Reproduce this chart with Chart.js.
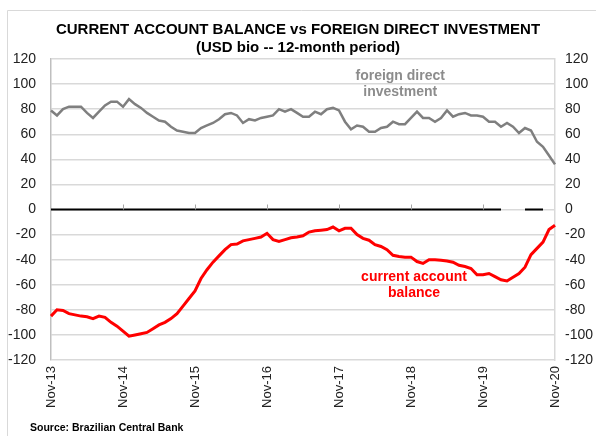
<!DOCTYPE html>
<html lang="en">
<head>
  <meta charset="UTF-8" />
  <title>Current account balance vs FDI</title>
  <script src="https://cdn.jsdelivr.net/npm/chart.js"></script>
  <style>
    html, body { margin: 0; padding: 0; background: #fff; }
    .chart-wrapper { width: 596px; height: 436px; position: relative; }
  </style>
</head>
<body>
<div class="chart-wrapper">
  <canvas id="caChart"></canvas>
</div>

<script>
  // monthly, Nov-13 .. Nov-20 (85 points), USD bio, 12-month sums
  const monthNames = ['Jan', 'Feb', 'Mar', 'Apr', 'May', 'Jun', 'Jul', 'Aug', 'Sep', 'Oct', 'Nov', 'Dec'];
  const categories = [];
  for (let i = 0; i < 85; i++) {
    const m = (10 + i) % 12;
    const y = 13 + Math.floor((10 + i) / 12);
    categories.push(monthNames[m] + '-' + y);
  }

  const fdi = [
    79, 75, 80, 82, 82, 82, 77, 73, 78, 83, 86, 86,
    82, 88, 84, 81, 77, 74, 71, 70, 66, 63, 62, 61,
    61, 65, 67, 69, 72, 76, 77, 75, 69, 72, 71, 73,
    74, 75, 80, 78, 80, 77, 74, 74, 78, 76, 80, 81,
    79, 70, 64, 67, 66, 62, 62, 65, 66, 70, 68, 68,
    73, 78, 73, 73, 70, 73, 79, 74, 76, 77, 75, 75,
    74, 70, 70, 66, 69, 66, 61, 65, 63, 54, 50, 43,
    36
  ];

  const currentAccount = [
    -85, -80, -80.5, -83, -84, -85, -85.5, -87, -85, -86, -90, -93,
    -97, -101, -100, -99, -98, -95, -92, -90, -87, -83, -77, -71,
    -65, -55, -48, -42, -37, -32, -28, -27.5, -25, -24, -23, -22,
    -19, -24, -25.5, -24, -22.5, -22, -21, -18, -17, -16.5, -16, -14,
    -17, -15, -15, -20, -23, -24.5, -28, -29.5, -32, -36.5, -37.5, -38,
    -38, -41.5, -43, -40, -40, -40.5, -41, -42, -44.5, -45.5, -47, -52,
    -52, -51, -53.5, -56, -57, -54, -51, -46, -36, -31, -26, -16,
    -12.5
  ];

  // the zero line in the original has two short breaks near the end
  const zeroLine = categories.map((c, i) =>
    (i >= 76 && i <= 78) || i >= 83 ? null : 0);

  const yTicks = { min: -120, max: 120, step: 20 };

  const titleText = 'CURRENT ACCOUNT BALANCE vs FOREIGN DIRECT INVESTMENT';
  const subtitleText = '(USD bio -- 12-month period)';
  const sourceText = 'Source: Brazilian Central Bank';
  const fdiLabel = ['foreign direct', 'investment'];
  const caLabel = ['current account', 'balance'];

  const FONT = "'Liberation Sans', Arial, sans-serif";

  // frame, source note, series labels and small ticks on the zero axis
  const extras = {
    id: 'extras',
    beforeDraw(chart) {
      const c = chart.ctx;
      c.save();
      c.strokeStyle = '#d9d9d9';
      c.lineWidth = 1;
      c.beginPath();
      c.moveTo(7.5, 436);
      c.lineTo(7.5, 10.5);
      c.lineTo(596, 10.5);
      c.stroke();
      c.restore();
    },
    afterDatasetsDraw(chart) {
      const c = chart.ctx;
      const x = chart.scales.x;
      const y = chart.scales.y;
      const y0 = y.getPixelForValue(0);
      c.save();
      c.strokeStyle = '#a6a6a6';
      c.lineWidth = 1;
      for (let i = 12; i < categories.length - 1; i += 12) {
        const px = Math.round(x.getPixelForValue(i)) + 0.5;
        c.beginPath();
        c.moveTo(px, y0 - 5);
        c.lineTo(px, y0);
        c.stroke();
      }

      c.textAlign = 'center';
      c.textBaseline = 'middle';
      c.font = 'bold 14px ' + FONT;
      c.fillStyle = '#8c8c8c';
      c.fillText(fdiLabel[0], x.getPixelForValue(58.2), y.getPixelForValue(106));
      c.fillText(fdiLabel[1], x.getPixelForValue(58.2), y.getPixelForValue(93.7));
      c.fillStyle = '#ff0000';
      c.fillText(caLabel[0], x.getPixelForValue(60.5), y.getPixelForValue(-53.8));
      c.fillText(caLabel[1], x.getPixelForValue(60.5), y.getPixelForValue(-66.8));

      c.textAlign = 'left';
      c.font = 'bold 10.5px ' + FONT;
      c.fillStyle = '#000';
      c.fillText(sourceText, 30, 428);
      c.restore();
    }
  };

  const config = {
    type: 'line',
    data: {
      labels: categories,
      datasets: [
        {
          label: 'zero',
          data: zeroLine,
          borderColor: '#000',
          borderWidth: 2,
          pointRadius: 0,
          spanGaps: false,
          order: 3
        },
        {
          label: 'foreign direct investment',
          data: fdi,
          borderColor: '#7f7f7f',
          borderWidth: 2.5,
          pointRadius: 0,
          tension: 0,
          order: 2
        },
        {
          label: 'current account balance',
          data: currentAccount,
          borderColor: '#ff0000',
          borderWidth: 3,
          pointRadius: 0,
          tension: 0,
          order: 1
        }
      ]
    },
    options: {
      responsive: true,
      maintainAspectRatio: false,
      animation: false,
      layout: { padding: 0 },
      plugins: {
        legend: { display: false },
        tooltip: { enabled: false },
        title: {
          display: true,
          text: titleText,
          color: '#000',
          font: { family: FONT, size: 15, weight: 'bold', lineHeight: 1.2 },
          padding: { top: 21, bottom: 0 }
        },
        subtitle: {
          display: true,
          text: subtitleText,
          color: '#000',
          font: { family: FONT, size: 15, weight: 'bold', lineHeight: 1.2 },
          padding: { top: 0, bottom: 2 }
        }
      },
      scales: {
        x: {
          grid: { display: false, drawTicks: false },
          border: { display: false },
          ticks: {
            autoSkip: false,
            minRotation: 90,
            maxRotation: 90,
            padding: 6,
            color: '#222',
            font: { family: FONT, size: 13 },
            callback: (v, i) => (i % 12 === 0 ? categories[i] : '')
          },
          afterFit: s => { s.height = 76; }
        },
        y: {
          position: 'left',
          min: yTicks.min,
          max: yTicks.max,
          grid: { color: '#d9d9d9', lineWidth: 1.5, drawTicks: false },
          border: { color: '#bfbfbf', width: 1.5 },
          ticks: {
            stepSize: yTicks.step,
            padding: 15,
            color: '#222',
            font: { family: FONT, size: 14 }
          },
          afterFit: s => { s.width = 51; }
        },
        y2: {
          position: 'right',
          min: yTicks.min,
          max: yTicks.max,
          grid: { display: false, drawTicks: false },
          border: { color: '#d9d9d9', width: 1.5 },
          ticks: {
            stepSize: yTicks.step,
            padding: 10,
            color: '#222',
            font: { family: FONT, size: 14 }
          },
          afterFit: s => { s.width = 41; }
        }
      }
    },
    plugins: [extras]
  };

  new Chart(document.getElementById('caChart').getContext('2d'), config);
</script>
</body>
</html>
